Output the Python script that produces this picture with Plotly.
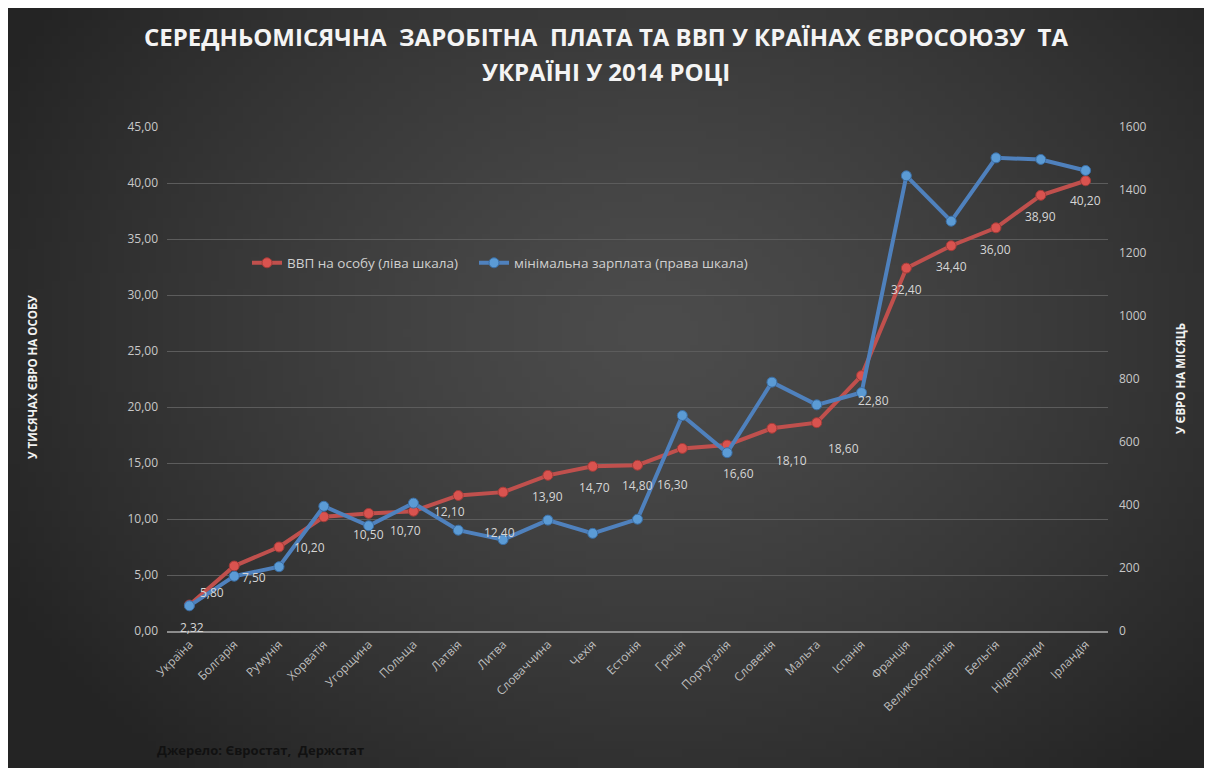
import base64, struct, zlib
import numpy as np
import plotly.graph_objects as go

countries = ["Україна", "Болгарія", "Румунія", "Хорватія", "Угорщина", "Польща", "Латвія",
             "Литва", "Словаччина", "Чехія", "Естонія", "Греція", "Португалія", "Словенія",
             "Мальта", "Іспанія", "Франція", "Великобританія", "Бельгія", "Нідерланди", "Ірландія"]
gdp = [2.32, 5.80, 7.50, 10.20, 10.50, 10.70, 12.10, 12.40, 13.90, 14.70, 14.80,
       16.30, 16.60, 18.10, 18.60, 22.80, 32.40, 34.40, 36.00, 38.90, 40.20]
min_wage = [80, 174, 204, 396, 334, 406, 320, 290, 352, 310, 355,
            684, 566, 790, 718, 757, 1445, 1301, 1502, 1497, 1462]
left_ticks = [0, 5, 10, 15, 20, 25, 30, 35, 40, 45]
right_ticks = [0, 200, 400, 600, 800, 1000, 1200, 1400, 1600]

# label offsets (pixels) for GDP data labels
lab_dx = [3, -22, -25, -14, 0, -8, -9, -4, 0, 2, 0, -10, 11, 20, 27, 12, 0, 0, 0, 0, 0]
lab_dy = [22, 26, 30, 31, 21, 19, 16, 40, 21, 21, 20, 36, 28, 32, 26, 25, 21, 21, 22, 21, 20]

OFF = 8  # page body margin
W, H = 1196, 760
L, T = 167 - OFF, 127 - OFF
R = W - (1108 - OFF)
B = H - (631 - OFF)
pw, ph = W - L - R, H - T - B


def gradient_png(w=150, h=96):
    yy, xx = np.mgrid[0:h, 0:w]
    cx, cy = w * 0.54, h * 0.42
    d = np.sqrt(((xx - cx) / (w * 0.62)) ** 2 + ((yy - cy) / (h * 0.78)) ** 2)
    d = np.clip(d, 0, 1)
    c0, c1 = 76, 36
    v = (c0 + (c1 - c0) * d ** 1.3).astype(np.uint8)
    raw = b"".join(b"\x00" + bytes(np.repeat(row, 3)) for row in v)

    def chunk(tag, data):
        c = struct.pack(">I", len(data)) + tag + data
        return c + struct.pack(">I", zlib.crc32(tag + data) & 0xffffffff)

    png = b"\x89PNG\r\n\x1a\n" + chunk(b"IHDR", struct.pack(">IIBBBBB", w, h, 8, 2, 0, 0, 0)) \
        + chunk(b"IDAT", zlib.compress(raw, 9)) + chunk(b"IEND", b"")
    return "data:image/png;base64," + base64.b64encode(png).decode()


def px_x(xp):
    return (xp - OFF - L) / pw


def px_y(yp):
    return (H - B - (yp - OFF)) / ph


fig = go.Figure()
fig.add_trace(go.Scatter(
    x=countries, y=gdp, name="ВВП на особу (ліва шкала)", mode="lines+markers",
    line=dict(color="#c0504d", width=4),
    marker=dict(color="#d9534f", size=10, line=dict(color="#a23b38", width=1)),
    legendwidth=182, yaxis="y"))
fig.add_trace(go.Scatter(
    x=countries, y=min_wage, name="мінімальна зарплата (права шкала)", mode="lines+markers",
    line=dict(color="#4f81bd", width=4),
    marker=dict(color="#5b9bd5", size=10, line=dict(color="#3a6ea5", width=1)),
    yaxis="y2"))

annotations = []
for c, v, dx, dy in zip(countries, gdp, lab_dx, lab_dy):
    annotations.append(dict(x=c, y=v, xref="x", yref="y", text=f"{v:.2f}".replace(".", ","),
                            showarrow=False, xshift=dx, yshift=-dy,
                            font=dict(size=12, color="#d6d6d6", family="Open Sans")))

common = dict(xref="paper", yref="paper", showarrow=False, xanchor="center", yanchor="middle")
annotations += [
    dict(x=px_x(606), y=px_y(37),
         text="<b>СЕРЕДНЬОМІСЯЧНА  ЗАРОБІТНА  ПЛАТА ТА ВВП У КРАЇНАХ ЄВРОСОЮЗУ  ТА</b>",
         font=dict(size=24, color="#f4f4f4", family="Open Sans"), **common),
    dict(x=px_x(606), y=px_y(72), text="<b>УКРАЇНІ У 2014 РОЦІ</b>",
         font=dict(size=24, color="#f4f4f4", family="Open Sans"), **common),
    dict(x=px_x(32), y=px_y(377), text="<b>У ТИСЯЧАХ ЄВРО НА ОСОБУ</b>", textangle=-90,
         font=dict(size=11.5, color="#f2f2f2", family="Open Sans"), **common),
    dict(x=px_x(1180), y=px_y(379), text="<b>У ЄВРО НА МІСЯЦЬ</b>", textangle=-90,
         font=dict(size=11.5, color="#f2f2f2", family="Open Sans"), **common),
    dict(x=px_x(155), y=px_y(750), xref="paper", yref="paper", xanchor="left", yanchor="middle",
         text="<b>Джерело: Євростат,  Держстат</b>", showarrow=False,
         font=dict(size=13, color="#111111", family="Open Sans")),
]

fig.update_layout(
    width=W, height=H,
    margin=dict(l=L, r=R, t=T, b=B, autoexpand=False),
    paper_bgcolor="#333333",
    plot_bgcolor="rgba(0,0,0,0)",
    separators=", ",
    font=dict(family="Open Sans", color="#c8c8c8"),
    xaxis=dict(type="category", range=[-0.5, len(countries) - 0.5], tickangle=-45,
               showgrid=False, showline=True, linecolor="#8c8c8c", linewidth=1.5,
               tickfont=dict(size=12, color="#bdbdbd"), ticks="", automargin=False),
    yaxis=dict(range=[0, 45], tickvals=left_ticks, tickformat=".2f", showgrid=True,
               gridcolor="#5c5c5c", gridwidth=1, zeroline=False, showline=False,
               tickfont=dict(size=12, color="#c8c8c8"), ticks="", ticklabelstandoff=8,
               automargin=False),
    yaxis2=dict(range=[0, 1600], tickvals=right_ticks, tickformat="d", overlaying="y", side="right",
                showgrid=False, zeroline=False, showline=False,
                tickfont=dict(size=12, color="#c8c8c8"), ticks="", ticklabelstandoff=10,
                automargin=False),
    legend=dict(orientation="h", x=px_x(247), y=px_y(263), xanchor="left", yanchor="middle",
                bgcolor="rgba(0,0,0,0)", font=dict(size=13.5, color="#d0d0d0"),
                itemwidth=30),
    showlegend=True,
    annotations=annotations,
    images=[dict(source=gradient_png(), xref="paper", yref="paper",
                 x=px_x(OFF), y=px_y(OFF), sizex=W / pw, sizey=H / ph,
                 xanchor="left", yanchor="top", sizing="stretch", layer="below")],
)

fig.write_html("out.html")
